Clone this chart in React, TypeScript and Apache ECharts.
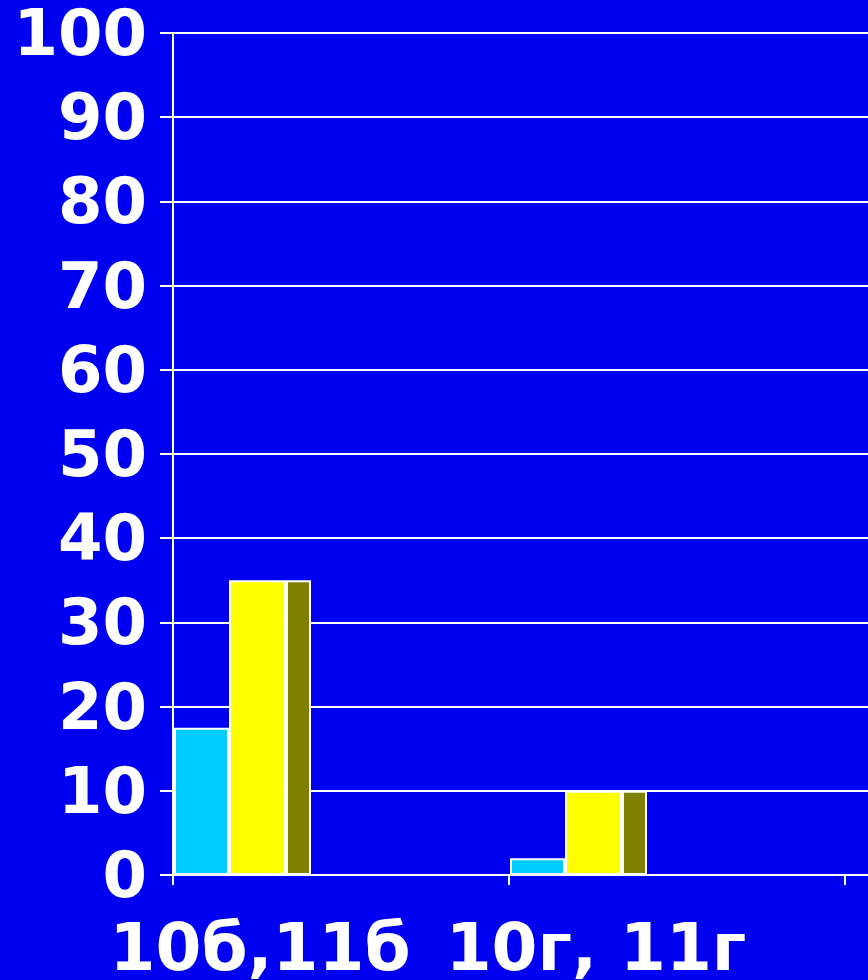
import React, { useEffect, useRef } from "react";
import * as echarts from "echarts";

const categories = ["10б,11б", "10г, 11г", ""];
const cyanValues: (number | string)[] = [17.5, 2, "-"];
const yellowValues: (number | string)[] = [35, 10, "-"];
const oliveValues: (number | string)[] = [35, 10, "-"];

const FONT = "'DejaVu Sans', sans-serif";

export default function App() {
  const ref = useRef<HTMLDivElement>(null);
  useEffect(() => {
    if (!ref.current) return;
    const chart = echarts.init(ref.current, undefined, { renderer: "svg" });
    const border = { borderColor: "#ffffff", borderWidth: 2 };
    chart.setOption({
      animation: false,
      backgroundColor: "#0000F0",
      grid: {
        left: 173,
        top: 33,
        bottom: 105,
        width: 1008,
        outerBoundsMode: "none",
        containLabel: false,
      },
      xAxis: {
        type: "category",
        data: categories,
        boundaryGap: true,
        axisLine: { show: true, lineStyle: { color: "#ffffff", width: 2 } },
        axisTick: { show: true, length: 10, lineStyle: { color: "#ffffff", width: 2 } },
        axisLabel: {
          color: "#ffffff",
          fontFamily: FONT,
          fontWeight: "bold",
          fontSize: 66,
          lineHeight: 56,
          margin: 44,
          interval: 0,
          padding: [0, 162, 0, 0],
        },
        splitLine: { show: false },
      },
      yAxis: {
        type: "value",
        min: 0,
        max: 100,
        interval: 10,
        axisLine: { show: true, lineStyle: { color: "#ffffff", width: 2 } },
        axisTick: { show: true, length: 13, lineStyle: { color: "#ffffff", width: 2 } },
        axisLabel: {
          color: "#ffffff",
          fontFamily: FONT,
          fontWeight: "bold",
          fontSize: 64,
          lineHeight: 52,
          margin: 26,
          padding: [8, 0, 0, 0],
        },
        splitLine: { show: true, lineStyle: { color: "#ffffff", width: 2 } },
      },
      series: [
        {
          name: "cyan",
          type: "bar",
          data: cyanValues,
          barWidth: 55,
          barGap: "0%",
          itemStyle: { color: "#00CCFF", ...border },
        },
        {
          name: "yellow",
          type: "bar",
          data: yellowValues,
          barWidth: 57,
          barGap: "0%",
          itemStyle: { color: "#FFFF00", ...border },
        },
        {
          name: "olive",
          type: "bar",
          data: oliveValues,
          barWidth: 25,
          barGap: "0%",
          itemStyle: { color: "#808000", ...border },
        },
        {
          name: "spacer",
          type: "bar",
          data: [],
          barWidth: 197,
          barGap: "0%",
          silent: true,
          itemStyle: { color: "transparent" },
        },
      ],
    });
    return () => chart.dispose();
  }, []);
  return (
    <div
      ref={ref}
      style={{ position: "absolute", left: 0, top: 0, width: 868, height: 980 }}
    />
  );
}
